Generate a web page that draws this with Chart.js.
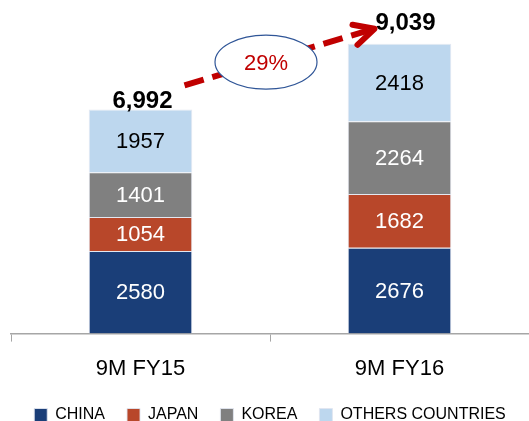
<!DOCTYPE html>
<html>
<head>
<meta charset="utf-8">
<script src="https://cdn.jsdelivr.net/npm/chart.js@4"></script>
<style>
  html, body { margin: 0; padding: 0; background: #fff; }
  #wrap { width: 529px; height: 421px; }
</style>
</head>
<body>
<div id="wrap"><canvas id="salesChart"></canvas></div>
<script>
// data
const periods = ['9M FY15', '9M FY16'];
const china = [2580, 2676];
const japan = [1054, 1682];
const korea = [1401, 2264];
const others = [1957, 2418];
const totals = [6992, 9039];
const growthLabel = '29%';

const FONT = "'Liberation Sans', Arial, sans-serif";

// values written in the middle of each segment
const segmentLabels = {
    id: 'segmentLabels',
    afterDatasetsDraw(chart) {
        const c = chart.ctx;
        c.save();
        c.font = '22px ' + FONT;
        c.textAlign = 'center';
        c.textBaseline = 'middle';
        chart.data.datasets.forEach((ds, i) => {
            const meta = chart.getDatasetMeta(i);
            meta.data.forEach((bar, j) => {
                c.fillStyle = ds.labelColor;
                c.fillText(ds.data[j], bar.x, (bar.y + bar.base) / 2 + 1);
            });
        });
        c.restore();
    }
};

// totals, growth arrow and ellipse
const growthMarks = {
    id: 'growthMarks',
    afterDraw(chart) {
        const c = chart.ctx;
        const x = chart.scales.x, y = chart.scales.y;
        const x0 = x.getPixelForValue(0), x1 = x.getPixelForValue(1);
        const t0 = y.getPixelForValue(totals[0]), t1 = y.getPixelForValue(totals[1]);

        c.save();
        c.fillStyle = '#000';
        c.font = 'bold 24px ' + FONT;
        c.textAlign = 'center';
        c.textBaseline = 'alphabetic';
        c.fillText(totals[0].toLocaleString('en-US'), x0 + 2, t0 - 1);
        c.fillText(totals[1].toLocaleString('en-US'), x1 + 6, t1 - 14);

        // dashed arrow
        const sx = x0 + 44, sy = t0 - 24;
        const ex = x1 - 25, ey = t1 - 15;
        c.strokeStyle = '#C00000';
        c.lineWidth = 6;
        c.setLineDash([20, 9]);
        c.beginPath();
        c.moveTo(sx, sy);
        c.lineTo(ex - 4, ey + 1);
        c.stroke();
        c.setLineDash([]);
        c.lineCap = 'round';
        c.lineJoin = 'round';
        c.beginPath();
        c.moveTo(ex - 22, ey - 4);
        c.lineTo(ex, ey);
        c.lineTo(ex - 17, ey + 16);
        c.stroke();

        // ellipse with growth
        const cx = (x0 + x1) / 2 - 4, cy = (sy + ey) / 2 + 5;
        c.beginPath();
        c.ellipse(cx, cy, 51, 27, 0, 0, Math.PI * 2);
        c.fillStyle = '#fff';
        c.fill();
        c.lineWidth = 1.2;
        c.strokeStyle = '#2F5597';
        c.stroke();
        c.fillStyle = '#C00000';
        c.font = '22px ' + FONT;
        c.textBaseline = 'middle';
        c.fillText(growthLabel, cx, cy + 2);
        c.restore();
    }
};

const barStyle = { borderColor: 'rgba(225,230,240,0.9)', borderWidth: 1, barPercentage: 0.8, categoryPercentage: 0.5 };

new Chart(document.getElementById('salesChart'), {
    type: 'bar',
    data: {
        labels: periods,
        datasets: [
            { label: 'CHINA', data: china, backgroundColor: '#1A3E78', labelColor: '#fff', ...barStyle },
            { label: 'JAPAN', data: japan, backgroundColor: '#B8472A', labelColor: '#fff', ...barStyle },
            { label: 'KOREA', data: korea, backgroundColor: '#808080', labelColor: '#fff', ...barStyle },
            { label: 'OTHERS COUNTRIES', data: others, backgroundColor: '#BDD7EE', labelColor: '#000', ...barStyle }
        ]
    },
    options: {
        responsive: true,
        maintainAspectRatio: false,
        animation: false,
        layout: { padding: { left: 11, right: 0, top: 13, bottom: -12 } },
        plugins: {
            legend: {
                position: 'bottom',
                labels: {
                    boxWidth: 13,
                    boxHeight: 13,
                    padding: 22,
                    color: '#000',
                    font: { family: FONT, size: 16 }
                }
            },
            tooltip: { enabled: false }
        },
        scales: {
            x: {
                stacked: true,
                grid: { display: true, drawOnChartArea: false, drawTicks: true, tickLength: 8, offset: true, color: '#A6A6A6' },
                border: { display: true, color: '#A6A6A6', width: 1.5 },
                ticks: { color: '#000', padding: 14, font: { family: FONT, size: 22 } },
                afterFit(scale) { scale.height -= 11; }
            },
            y: {
                stacked: true,
                display: false,
                min: 0,
                max: 10000
            }
        }
    },
    plugins: [segmentLabels, growthMarks]
});
</script>
</body>
</html>
